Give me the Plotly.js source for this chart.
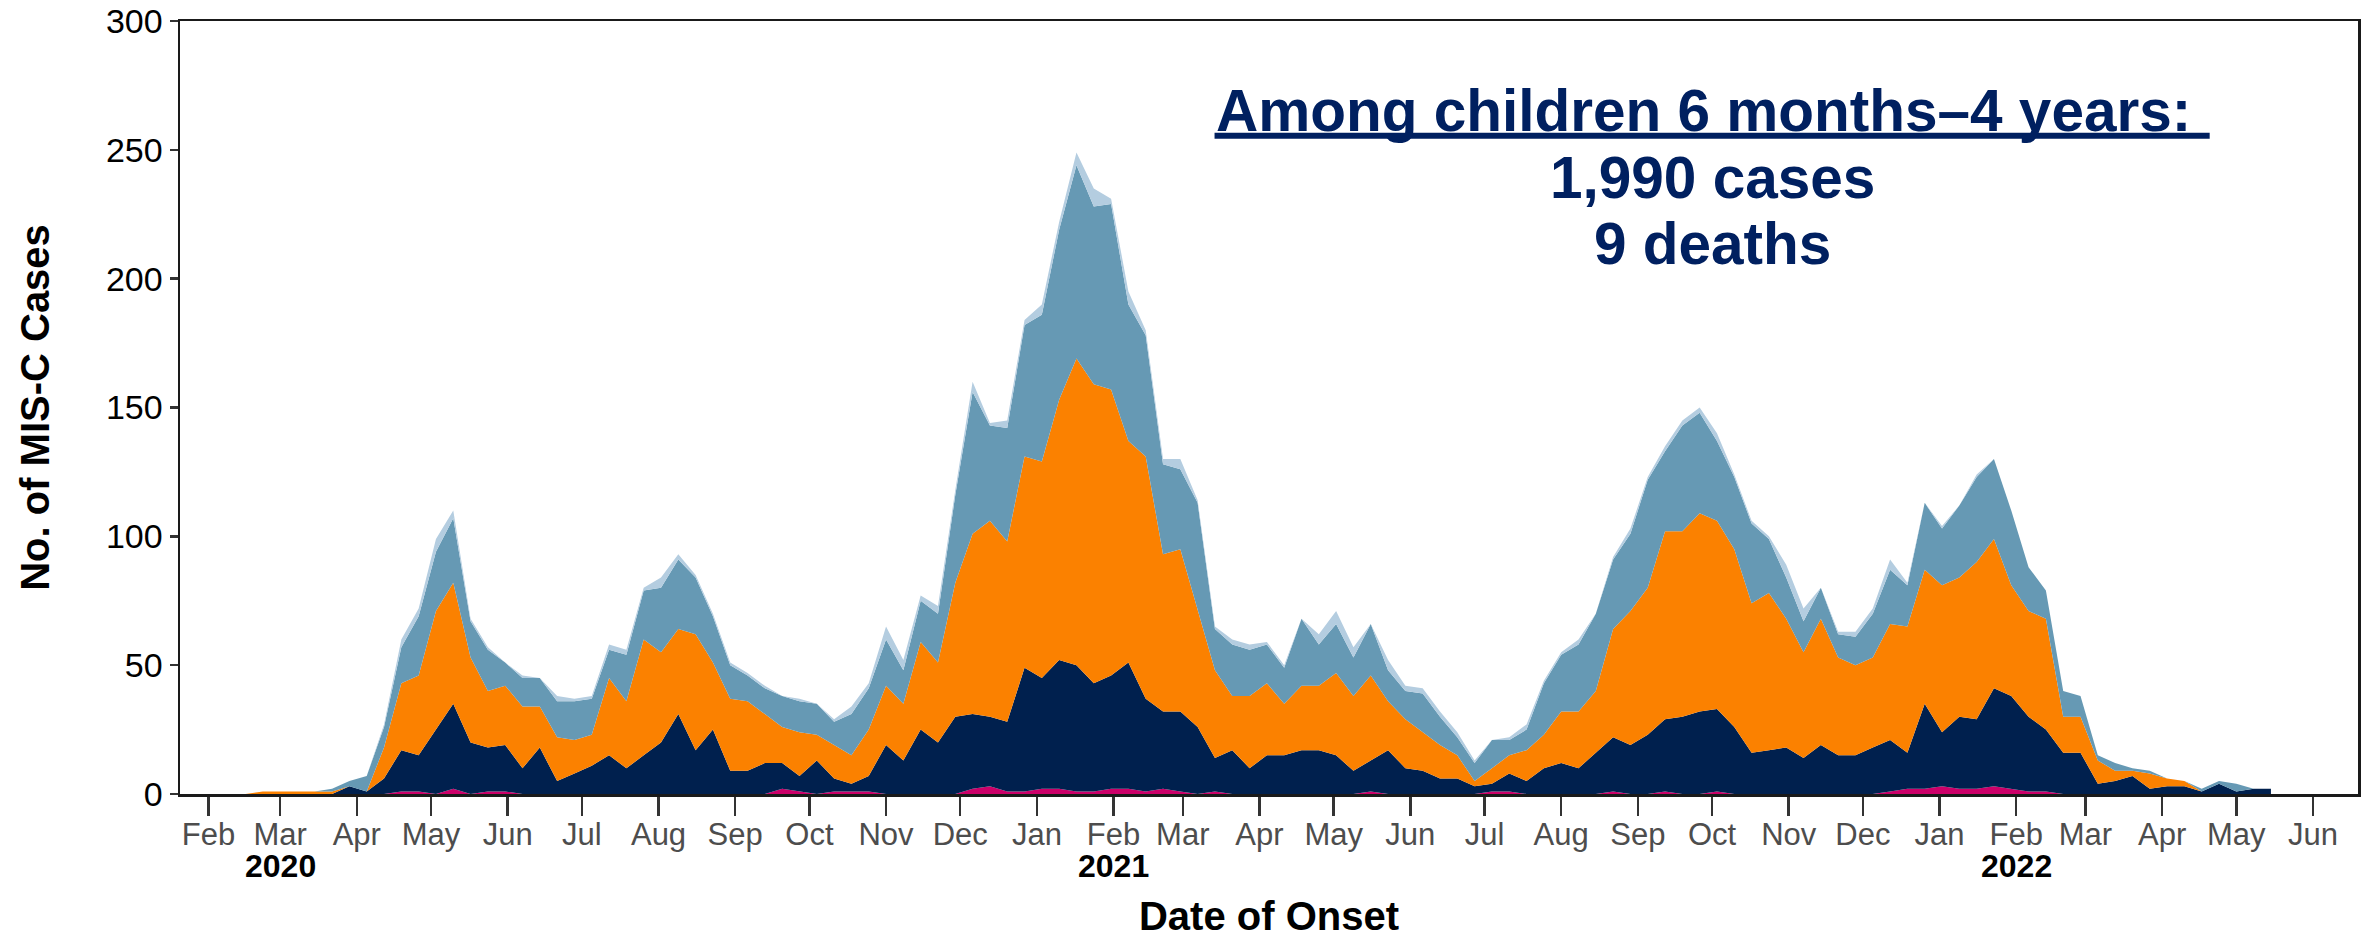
<!DOCTYPE html>
<html>
<head>
<meta charset="utf-8">
<script src="https://cdn.plot.ly/plotly-3.0.1.min.js"></script>
<style>html,body{margin:0;padding:0;background:#fff;}#chart{width:2374px;height:938px;}</style>
</head>
<body>
<div id="chart"></div>
<script>
// Weekly onset dates (week starting Sunday)
const weeks = [
'2020-02-16','2020-02-23','2020-03-01','2020-03-08','2020-03-15','2020-03-22','2020-03-29','2020-04-05','2020-04-12','2020-04-19',
'2020-04-26','2020-05-03','2020-05-10','2020-05-17','2020-05-24','2020-05-31','2020-06-07','2020-06-14','2020-06-21','2020-06-28',
'2020-07-05','2020-07-12','2020-07-19','2020-07-26','2020-08-02','2020-08-09','2020-08-16','2020-08-23','2020-08-30','2020-09-06',
'2020-09-13','2020-09-20','2020-09-27','2020-10-04','2020-10-11','2020-10-18','2020-10-25','2020-11-01','2020-11-08','2020-11-15',
'2020-11-22','2020-11-29','2020-12-06','2020-12-13','2020-12-20','2020-12-27','2021-01-03','2021-01-10','2021-01-17','2021-01-24',
'2021-01-31','2021-02-07','2021-02-14','2021-02-21','2021-02-28','2021-03-07','2021-03-14','2021-03-21','2021-03-28','2021-04-04',
'2021-04-11','2021-04-18','2021-04-25','2021-05-02','2021-05-09','2021-05-16','2021-05-23','2021-05-30','2021-06-06','2021-06-13',
'2021-06-20','2021-06-27','2021-07-04','2021-07-11','2021-07-18','2021-07-25','2021-08-01','2021-08-08','2021-08-15','2021-08-22',
'2021-08-29','2021-09-05','2021-09-12','2021-09-19','2021-09-26','2021-10-03','2021-10-10','2021-10-17','2021-10-24','2021-10-31',
'2021-11-07','2021-11-14','2021-11-21','2021-11-28','2021-12-05','2021-12-12','2021-12-19','2021-12-26','2022-01-02','2022-01-09',
'2022-01-16','2022-01-23','2022-01-30','2022-02-06','2022-02-13','2022-02-20','2022-02-27','2022-03-06','2022-03-13','2022-03-20',
'2022-03-27','2022-04-03','2022-04-10','2022-04-17','2022-04-24','2022-05-01','2022-05-08','2022-05-15'
];

// Cases per week by age group (stacked bottom to top)
const under6mo = [
0,0,0,0,0,0,0,0,0,1, 1,0,2,0,1,1,0,0,0,0, 0,0,0,0,0,0,0,0,0,0,
0,2,1,0,1,1,1,0,0,0, 0,0,2,3,1,1,2,2,1,1, 2,2,1,2,1,0,1,0,0,0,
0,0,0,0,0,1,0,0,0,0, 0,0,1,1,0,0,0,0,0,1, 0,0,1,0,0,1,0,0,0,0,
0,0,0,0,0,1,2,2,3,2, 2,3,2,1,1,0,0,0,0,0, 0,0,0,0,0,0,0,0
];
const age6moTo4 = [
0,0,0,0,0,0,3,1,6,16, 14,25,33,20,17,18,10,18,5,8, 11,15,10,15,20,31,17,25,9,9,
12,10,6,13,5,3,6,19,13,25, 20,30,29,27,27,48,43,50,49,42, 44,49,36,30,31,26,13,17,10,15,
15,17,17,15,9,12,17,10,9,6, 6,3,3,7,5,10,12,10,16,21, 19,23,28,30,32,32,26,16,17,18,
14,19,15,15,18,20,14,33,21,28, 27,38,36,29,24,16,16,4,5,7, 2,3,3,1,4,1,2,2
];
const age5to11 = [
0,1,1,1,1,1,0,0,12,26, 31,46,47,33,22,23,24,16,17,13, 12,30,26,45,35,33,45,26,28,27,
19,14,17,10,13,11,18,23,22,34, 31,52,70,76,70,82,84,101,119,116, 111,86,94,61,63,45,34,21,28,28,
20,25,25,32,29,33,19,19,15,13, 9,2,6,7,12,13,20,22,24,42, 52,57,73,72,77,73,69,58,61,50,
41,49,38,35,35,45,49,52,57,54, 61,58,43,41,43,14,14,9,4,2, 6,3,2,0,0,0,0,0
];
const age12to17 = [
0,0,0,0,0,1,2,6,8,14, 23,23,25,14,16,9,11,11,14,15, 14,11,18,19,25,27,22,18,13,10,
10,12,12,12,9,16,16,18,13,16, 19,34,55,37,44,51,57,66,75,69, 72,53,47,35,31,42,16,20,18,15,
14,26,16,19,15,20,12,11,15,11, 7,7,11,6,8,20,22,26,30,27, 30,42,31,41,39,31,28,31,21,16,
12,12,9,11,17,21,16,26,22,28, 33,31,29,17,11,10,8,2,3,1, 1,0,0,1,1,3,0,0
];
const age18to20 = [
0,0,0,0,0,0,0,0,1,3, 3,5,3,1,1,0,1,0,2,1, 1,2,2,1,4,2,1,1,1,1,
1,0,1,0,1,3,2,5,4,2, 3,2,4,1,3,2,4,3,5,7, 2,5,2,2,4,1,1,2,2,1,
1,0,4,5,4,0,4,2,2,2, 2,1,0,1,2,1,1,2,0,1, 2,1,2,2,2,3,1,1,1,5,
5,0,1,2,2,4,1,0,1,0, 1,0,0,0,0,0,0,0,0,0, 0,0,0,0,0,0,0,0
];

const seriesNames = ['0–5 months','6 months–4 years','5–11 years','12–17 years','18–20 years'];
const seriesColors = ['#cc0069','#00204e','#fb8100','#6699b4','#b4cde0'];
const seriesValues = [under6mo, age6moTo4, age5to11, age12to17, age18to20];

// Axis ticks
const monthTicks = [
'2020-02-01','2020-03-01','2020-04-01','2020-05-01','2020-06-01','2020-07-01','2020-08-01','2020-09-01','2020-10-01','2020-11-01','2020-12-01',
'2021-01-01','2021-02-01','2021-03-01','2021-04-01','2021-05-01','2021-06-01','2021-07-01','2021-08-01','2021-09-01','2021-10-01','2021-11-01','2021-12-01',
'2022-01-01','2022-02-01','2022-03-01','2022-04-01','2022-05-01','2022-06-01'
];
const monthLabels = [
'Feb','Mar','Apr','May','Jun','Jul','Aug','Sep','Oct','Nov','Dec',
'Jan','Feb','Mar','Apr','May','Jun','Jul','Aug','Sep','Oct','Nov','Dec',
'Jan','Feb','Mar','Apr','May','Jun'
];
const yearLabels = ['2020','2021','2022'];
const yearLabelDates = ['2020-03-01','2021-02-01','2022-02-01'];
const yTicks = [0,50,100,150,200,250,300];

const FONT = 'Liberation Sans, Arial, Helvetica, sans-serif';
const NAVY_TEXT = '#002060';

const traces = seriesValues.map((vals, i) => ({
  type: 'scatter',
  mode: 'lines',
  x: weeks,
  y: vals,
  name: seriesNames[i],
  stackgroup: 'cases',
  line: {width: 0, color: seriesColors[i]},
  fillcolor: seriesColors[i],
  hoverinfo: 'x+y+name',
  showlegend: false
}));

const annotations = yearLabels.map((t, i) => ({
  text: '<b>' + t + '</b>',
  x: yearLabelDates[i], xref: 'x',
  y: -0.093, yref: 'paper',
  xanchor: 'center', yanchor: 'middle',
  showarrow: false,
  font: {family: FONT, size: 32, color: '#000'}
}));

const summaryLines = ['<b>Among children 6 months–4 years: </b>', '<b>1,990 cases</b>', '<b>9 deaths</b>'];
const summaryY = [0.884, 0.798, 0.712];
summaryLines.forEach((t, i) => annotations.push({
  text: t, x: 0.7034, xref: 'paper', y: summaryY[i], yref: 'paper',
  xanchor: 'center', yanchor: 'middle', showarrow: false,
  font: {family: FONT, size: 58.5, color: NAVY_TEXT}
}));

const layout = {
  width: 2374, height: 938,
  margin: {l: 180, r: 16, t: 21, b: 144, pad: 0},
  paper_bgcolor: '#fff', plot_bgcolor: '#fff',
  showlegend: false,
  font: {family: FONT},
  xaxis: {
    type: 'date',
    range: ['2020-01-20 12:00', '2022-06-19 05:00'],
    tickmode: 'array', tickvals: monthTicks, ticktext: monthLabels,
    ticks: 'outside', ticklen: 19, tickwidth: 2.5, tickcolor: '#333',
    ticklabelstandoff: -8,
    tickfont: {family: FONT, size: 31, color: '#4d4d4d'},
    showgrid: false, zeroline: false,
    showline: true, linecolor: '#1a1a1a', linewidth: 2.5, mirror: true,
    title: {text: '<b>Date of Onset</b>', font: {family: FONT, size: 40, color: '#000'}, standoff: 60}
  },
  yaxis: {
    range: [0, 300],
    tickmode: 'array', tickvals: yTicks,
    ticks: 'outside', ticklen: 8, tickwidth: 2.5, tickcolor: '#333',
    tickfont: {family: FONT, size: 34, color: '#000'},
    showgrid: false, zeroline: false,
    showline: true, linecolor: '#1a1a1a', linewidth: 2.5, mirror: true,
    title: {text: '<b>No. of MIS-C Cases</b>', font: {family: FONT, size: 40, color: '#000'}, standoff: 44}
  },
  annotations: annotations,
  shapes: [{
    type: 'line', xref: 'paper', yref: 'paper',
    x0: 0.475, x1: 0.9319, y0: 0.8516, y1: 0.8516,
    line: {color: NAVY_TEXT, width: 6}
  }]
};

Plotly.newPlot('chart', traces, layout, {displayModeBar: false, staticPlot: true});
</script>
</body>
</html>
